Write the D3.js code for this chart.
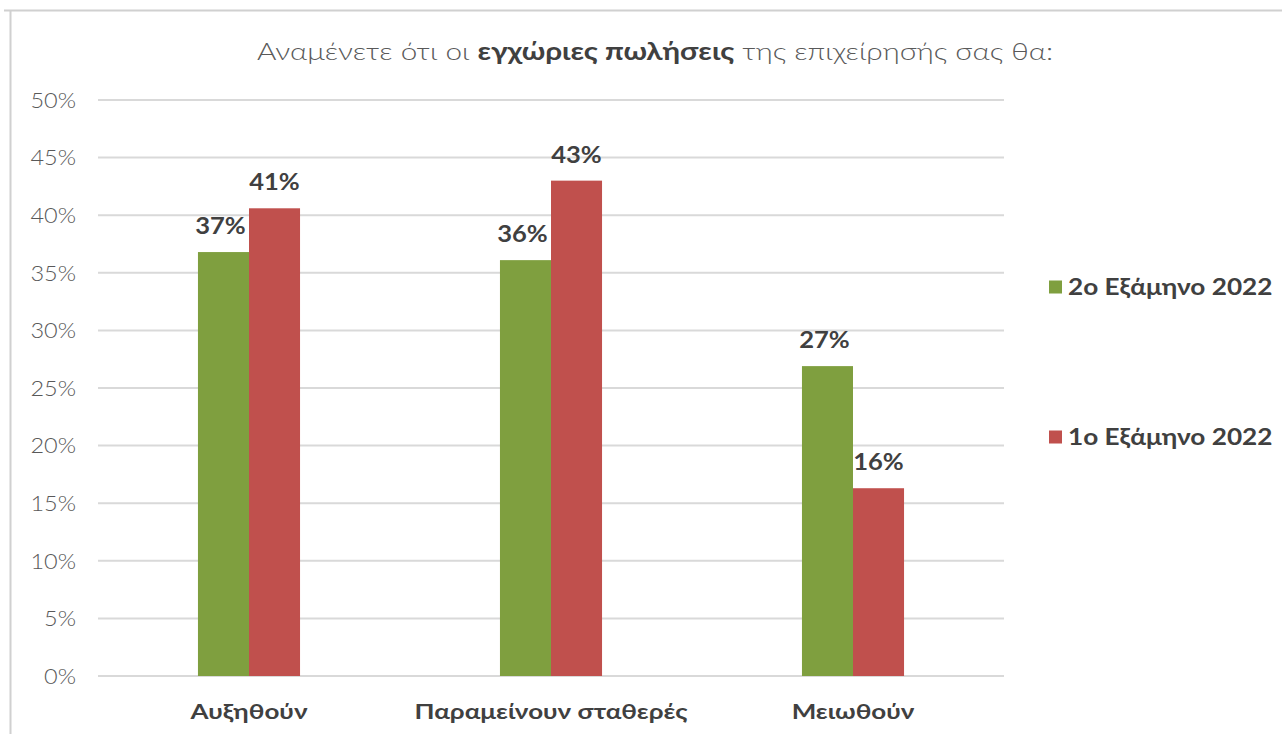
<!DOCTYPE html>
<html><head><meta charset="utf-8">
<script src="https://cdn.jsdelivr.net/npm/d3@7"></script>
<style>
body{margin:0;background:#fff;}
svg{display:block;}
</style></head>
<body>
<svg id="c" width="1282" height="734"></svg>
<script>
const categories = ["Αυξηθούν", "Παραμείνουν σταθερές", "Μειωθούν"];
const seriesNames = ["2ο Εξάμηνο 2022", "1ο Εξάμηνο 2022"];
const series2H = [0.368, 0.361, 0.269];
const series1H = [0.406, 0.430, 0.163];
const valueLabels2H = ["37%", "36%", "27%"];
const valueLabels1H = ["41%", "43%", "16%"];
const yTicks = [0, 0.05, 0.10, 0.15, 0.20, 0.25, 0.30, 0.35, 0.40, 0.45, 0.50];
const colors = ["#7f9f3f", "#c0504d"];

const svg = d3.select("#c");
const font = "Lato, 'Open Sans', sans-serif";
const M = {left: 98, right: 1004, top: 100, bottom: 676};

// widen glyphs to imitate a wide geometric face
function stretch(sel, f) {
  sel.each(function() {
    const w = this.getComputedTextLength();
    d3.select(this).attr("textLength", w * f).attr("lengthAdjust", "spacingAndGlyphs");
  });
}

// frame
svg.append("line").attr("x1", 4).attr("x2", 1282).attr("y1", 10.5).attr("y2", 10.5).attr("stroke", "#d0d0d0").attr("stroke-width", 2);
svg.append("line").attr("x1", 10.5).attr("x2", 10.5).attr("y1", 10).attr("y2", 734).attr("stroke", "#d0d0d0").attr("stroke-width", 2);

const x = d3.scaleBand().domain(categories).range([M.left, M.right]).paddingInner(0.662).paddingOuter(0.331);
const xs = d3.scaleBand().domain(seriesNames).range([0, x.bandwidth()]);
const y = d3.scaleLinear().domain([0, 0.5]).range([M.bottom, M.top]);

// gridlines
svg.append("g").selectAll("line").data(yTicks).join("line")
  .attr("x1", M.left).attr("x2", M.right)
  .attr("y1", d => y(d)).attr("y2", d => y(d))
  .attr("stroke", "#d9d9d9").attr("stroke-width", 2);

// y axis labels
const yAxis = d3.axisLeft(y).tickValues(yTicks).tickFormat(d3.format(".0%")).tickSize(0).tickPadding(0);
const ya = svg.append("g").attr("transform", "translate(76,0)").call(yAxis);
ya.select(".domain").remove();
ya.selectAll("text").attr("font-family", font).attr("font-size", 21).attr("font-weight", 300).attr("fill", "#595959").attr("dy", "0.35em");
stretch(ya.selectAll("text"), 1.12);

// x axis labels
const xAxis = d3.axisBottom(x).tickSize(0).tickPadding(0);
const xa = svg.append("g").attr("transform", `translate(0,${M.bottom})`).call(xAxis);
xa.select(".domain").remove();
xa.selectAll("text").attr("font-family", font).attr("font-size", 20).attr("font-weight", 700).attr("fill", "#404040").attr("y", 43).attr("dy", 0);
stretch(xa.selectAll("text"), 1.3);

const data = [series2H, series1H];
const labels = [valueLabels2H, valueLabels1H];
data.forEach((vals, si) => {
  const g = svg.append("g");
  g.selectAll("rect").data(vals).join("rect")
    .attr("x", (d, i) => x(categories[i]) + xs(seriesNames[si]))
    .attr("width", xs.bandwidth())
    .attr("y", d => y(d))
    .attr("height", d => y(0) - y(d))
    .attr("fill", colors[si]);
  const tl = g.selectAll("text").data(vals).join("text")
    .attr("x", (d, i) => x(categories[i]) + xs(seriesNames[si]) + xs.bandwidth() / 2 - (si === 0 ? 3 : 0))
    .attr("y", d => y(d) - 18)
    .attr("text-anchor", "middle")
    .attr("font-family", font).attr("font-size", 22).attr("font-weight", 700).attr("fill", "#404040")
    .text((d, i) => labels[si][i]);
  stretch(tl, 1.16);
});

// title
const t = svg.append("text").attr("x", 655).attr("y", 60).attr("text-anchor", "middle")
  .attr("font-family", font).attr("font-size", 24).attr("fill", "#595959");
t.append("tspan").attr("font-weight", 300).text("Αναμένετε ότι οι ");
t.append("tspan").attr("font-weight", 700).attr("fill", "#404040").text("εγχώριες πωλήσεις");
t.append("tspan").attr("font-weight", 300).text(" της επιχείρησής σας θα:");
stretch(t, 1.237);

// legend
const lg = svg.append("g").selectAll("g").data(seriesNames).join("g")
  .attr("transform", (d, i) => `translate(1049,${287 + i * 150})`);
lg.append("rect").attr("x", 0).attr("y", -6.5).attr("width", 13).attr("height", 13).attr("fill", (d, i) => colors[i]);
const lt = lg.append("text").attr("x", 19).attr("y", 0).attr("dy", "0.35em")
  .attr("font-family", font).attr("font-size", 22).attr("font-weight", 700).attr("fill", "#404040")
  .text(d => d);
stretch(lt, 1.19);
</script>
</body></html>
